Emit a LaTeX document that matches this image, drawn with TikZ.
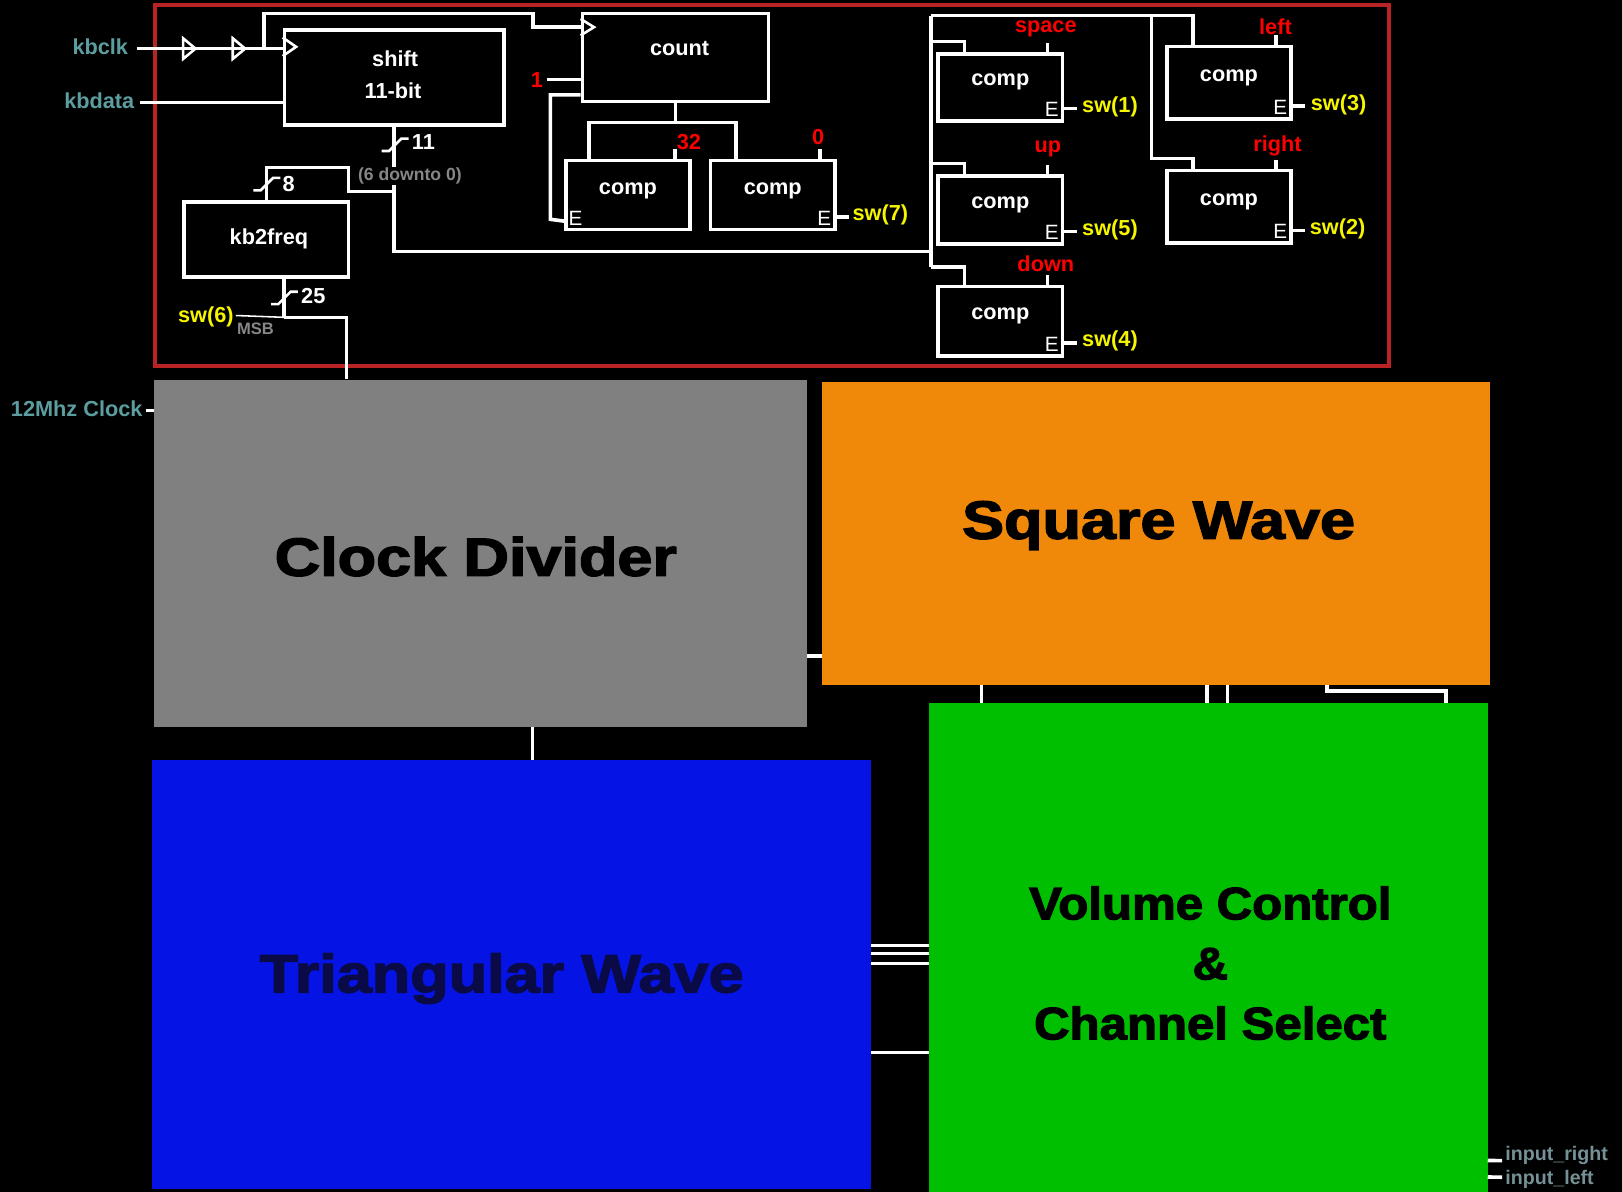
\documentclass[tikz,border=0pt]{standalone}
\usepackage{fontspec}
\setmainfont{Liberation Sans}
\newfontfamily\heavy{Liberation Sans}[BoldFeatures={FakeBold=2.5}]
\usepackage{graphicx}
\usetikzlibrary{calc}
\definecolor{portteal}{RGB}{92,158,160}
\definecolor{outgray}{RGB}{118,145,150}
\definecolor{swyel}{RGB}{245,245,0}
\definecolor{keyred}{RGB}{255,0,0}
\definecolor{framered}{RGB}{185,35,35}
\definecolor{sgray}{RGB}{135,135,135}
\definecolor{cdgray}{RGB}{128,128,128}
\definecolor{sqorange}{RGB}{240,136,10}
\definecolor{triblue}{RGB}{5,20,228}
\definecolor{volgreen}{RGB}{0,190,0}
\newcommand\bigt[2]{\scalebox{#1}[1]{#2}}
\begin{document}
\begin{tikzpicture}[x=1pt,y=-1pt,
  wire/.style={draw=white,line width=3.5pt},
  thinwire/.style={draw=white,line width=1.5pt},
  tri/.style={draw=white,line width=2.5pt,line join=miter},
  slash/.style={draw=white,line width=2.5pt,line join=miter},
  box/.style={draw=white,line width=3.5pt,fill=black,inner sep=0pt,rectangle},
  lbl/.style={text=white,inner sep=0pt,font=\fontsize{21}{21}\selectfont\bfseries},
  elbl/.style={text=white,inner sep=0pt,font=\fontsize{20}{20}\selectfont},
  swl/.style={text=swyel,inner sep=0pt,anchor=west,font=\fontsize{21}{21}\selectfont\bfseries},
  key/.style={text=keyred,inner sep=0pt,font=\fontsize{21}{21}\selectfont\bfseries},
  port/.style={text=portteal,inner sep=0pt,anchor=east,font=\fontsize{21}{21}\selectfont\bfseries},
  outp/.style={text=outgray,inner sep=0pt,anchor=west,font=\fontsize{19}{19}\selectfont\bfseries},
  note/.style={text=sgray,inner sep=1pt,fill=black,anchor=west,font=\fontsize{17}{17}\selectfont\bfseries},
  block/.style={draw=none,inner sep=0pt,rectangle},
  bigl/.style={inner sep=0pt,align=center,font=\heavy\bfseries\fontsize{52}{60}\selectfont}
]
\fill[black] (0,0) rectangle (1568,1152);
\useasboundingbox (0,0) rectangle (1568,1152);

% red frame
\node[draw=framered,line width=3.5pt,minimum width=1193pt,minimum height=349pt,inner sep=0pt] (frame) at (746.5,179.5) {};

% boxes of the keyboard part
\node[box,minimum width=212pt,minimum height=92pt] (shift) at (381,75) {};
\node[box,minimum width=180pt,minimum height=85pt] (count) at (653,55.5) {};
\node[box,minimum width=159pt,minimum height=73pt] (kb2freq) at (257.5,231.5) {};
\node[box,minimum width=120pt,minimum height=67pt] (c32) at (607,188.5) {};
\node[box,minimum width=120pt,minimum height=67pt] (c0) at (747,188.5) {};
\node[box,minimum width=120pt,minimum height=65pt] (cspace) at (967,84.5) {};
\node[box,minimum width=120pt,minimum height=66pt] (cup) at (967,203) {};
\node[box,minimum width=120pt,minimum height=67pt] (cdown) at (967,310.5) {};
\node[box,minimum width=120pt,minimum height=70pt] (cleft) at (1188,80) {};
\node[box,minimum width=120pt,minimum height=70pt] (cright) at (1188,200) {};

% big blocks
\node[block,fill=cdgray,minimum width=631pt,minimum height=336pt] (clkdiv) at (464.5,535) {};
\node[block,fill=sqorange,minimum width=645pt,minimum height=293pt] (square) at (1117.5,515.5) {};
\node[block,fill=triblue,minimum width=695pt,minimum height=414pt] (tri) at (494.5,942) {};
\node[block,fill=volgreen,minimum width=540pt,minimum height=502pt] (vol) at (1168,931) {};
\node[bigl,text=black] (tclk) at (460,538) {\bigt{1.17}{Clock Divider}};
\node[bigl,text=black] (tsquare) at (1120,508) {\bigt{1.17}{Square Wave}};
\node[bigl,text={rgb,255:red,10;green,10;blue,70}] (ttri) at (485,946) {\bigt{1.17}{Triangular Wave}};
\node[bigl,text=black,font=\heavy\bfseries\fontsize{44}{58}\selectfont] (tvol) at (1170,931)
  {\bigt{1.08}{Volume Control}\\\bigt{1.08}{\&}\\\bigt{1.08}{Channel Select}};

% port labels
\node[port] (kbclk) at (124,45) {kbclk};
\node[port] (kbdata) at (130,97) {kbdata};
\node[port] (clk12) at (138,395) {12Mhz Clock};
\node[outp] (inr) at (1455,1117) {input\_right};
\node[outp] (inl) at (1455,1140) {input\_left};

% --- wires: clock and data into shift
\coordinate (kin) at (132,47);
\coordinate (cj) at (255,47);
\draw[wire] (kin) -- (kin -| shift.west);
\draw[tri] (177,37) -- (177,57) -- (189,47) -- cycle;
\draw[tri] (225,37) -- (225,57) -- (237,47) -- cycle;
\draw[wire] (cj) |- (515,13) |- ($(count.north west)+(0,15)$);
\draw[tri] ($(shift.north west)+(0,9)$) -- ($(shift.north west)+(13,18)$) -- ($(shift.north west)+(0,27)$);
\draw[tri] ($(count.north west)+(0,7)$) -- ($(count.north west)+(13,15)$) -- ($(count.north west)+(0,23)$);
\coordinate (din) at (135,99);
\draw[wire] (din) -- (din -| shift.west);

% count inputs
\node[key] (one) at (519,77) {1};
\draw[wire] ($(one.east)+(4,0)$) -- (one.east -| count.west);
\draw[wire] ($(count.south west)+(0,-8)$) -| (532,212) -- ($(c32.south west)+(0,-10)$);

% count to comparators
\coordinate (cb) at (653,120);
\draw[wire] (count.south) -- (cb);
\draw[wire] ($(c32.north west)+(24,0)$) |- ($(c0.north west)+(26,-35)$) -- ($(c0.north west)+(26,0)$);
\draw[wire] ($(c32.north east)+(-16,0)$) -- ++(0,-9);
\draw[wire] ($(c0.north east)+(-16,0)$) -- ++(0,-9);
\draw[wire] ($(c0.south east)+(0,-14)$) -- ++(12,0);

% shift output bus
\coordinate (bj) at (382,185);
\coordinate (bc) at (382,243);
\coordinate (rb) at (900,243);
\draw[wire] (shift.south) -- (shift.south |- bc) -- (rb);
\draw[wire] (shift.south |- bj) -| (337,162) -| (kb2freq.north);
\draw[slash] (369,146) -- (376,146) -- (388,134) -- (395,134);
\draw[slash] (245,184) -- (252,184) -- (264,172) -- (271,172);

% kb2freq output
\draw[wire] ($(kb2freq.south)+(17,0)$) -- ++(0,37) coordinate (kj);
\draw[wire] (kj) -| ($(clkdiv.north west)+(186,0)$);
\draw[slash] (262,294) -- (269,294) -- (281,282) -- (288,282);
\node[swl,anchor=east] (sw6) at (226,306) {sw(6)};
\draw[thinwire] ($(sw6.east)+(2,-1)$) -- (kj);

% right comparator bus
\coordinate (rt) at (900,15);
\coordinate (rbt) at (900,258);
\coordinate (rt2) at (1113,15);
\draw[wire] (rt) -- (rbt);
\draw[wire] (rt) -| ($(cleft.north west)+(27,0)$);
\draw[wire] (rt2) |- ($(cright.north west)+(27,-10)$) -- ($(cright.north west)+(27,0)$);
\draw[wire] (900,40) -| ($(cspace.north west)+(27,0)$);
\draw[wire] (900,158) -| ($(cup.north west)+(27,0)$);
\draw[wire] (rbt) -| ($(cdown.north west)+(27,0)$);
\foreach \c in {cspace,cup,cdown,cleft,cright}{
  \draw[wire] ($(\c.north east)+(-16,0)$) -- ++(0,-9);
  \draw[wire] ($(\c.south east)+(0,-14)$) -- ++(12,0);
  \node[lbl] (\c t) at ($(\c.center)+(0,-5)$) {comp};
  \node[elbl] (\c e) at ($(\c.south east)+(-12,-13)$) {E};
}

% texts of the keyboard part
\node[lbl] (tshift) at (382,57) {shift};
\node[lbl] (tbit) at (380,88) {11-bit};
\node[lbl] (tcount) at (657,47) {count};
\node[lbl] (tkb) at (260,231) {kb2freq};
\node[lbl] (c32t) at ($(c32.center)+(0,-4)$) {comp};
\node[lbl] (c0t) at ($(c0.center)+(0,-4)$) {comp};
\node[elbl] (c32e) at ($(c32.south west)+(11,-13)$) {E};
\node[elbl] (c0e) at ($(c0.south east)+(-12,-13)$) {E};
\node[lbl,anchor=west] (n11) at (398,137) {11};
\node[lbl,anchor=west] (n8) at (273,178) {8};
\node[lbl,anchor=west] (n25) at (291,286) {25};
\node[note] (n60) at (345,170) {(6 downto 0)};
\node[note,fill=none,font=\fontsize{16}{16}\selectfont\bfseries] (msb) at (228,318) {MSB};
\node[key] (k32) at (666,137) {32};
\node[key] (k0) at (791,132) {0};
\node[swl] (sw7) at (824,208) {sw(7)};
\node[key] (kspace) at (1011,28) {space};
\node[key] (kup) at (1013,144) {up};
\node[key] (kdown) at (1011,255) {down};
\node[key] (kleft) at (1233,26) {left};
\node[key] (kright) at (1235,141) {right};
\node[swl] (sw1) at (1046,103) {sw(1)};
\node[swl] (sw5) at (1046,222) {sw(5)};
\node[swl] (sw4) at (1046,330) {sw(4)};
\node[swl] (sw3) at (1267,101) {sw(3)};
\node[swl] (sw2) at (1266,221) {sw(2)};

% --- lower block wires
\draw[wire] ($(clkdiv.north west)+(-8,30)$) -- ($(clkdiv.north west)+(0,30)$);
\draw[wire] ($(clkdiv.south east)+(0,-69)$) -- ($(square.south west)+(0,-28)$);
\draw[wire] ($(clkdiv.south west)+(366,0)$) -- ($(tri.north west)+(368,0)$);
\draw[wire] ($(square.south west)+(154,0)$) -- ($(vol.north west)+(51,0)$);
\draw[wire] ($(square.south west)+(372,0)$) -- ($(vol.north west)+(269,0)$);
\draw[wire] ($(square.south west)+(392,0)$) -- ($(vol.north west)+(289,0)$);
\draw[wire] ($(square.south west)+(488,0)$) |- ($(vol.north west)+(500,-12)$) -- ($(vol.north west)+(500,0)$);
\draw[wire,line width=3pt] ($(tri.north east)+(0,179)$) -- ($(vol.north west)+(0,234)$);
\draw[wire,line width=3pt] ($(tri.north east)+(0,187)$) -- ($(vol.north west)+(0,242)$);
\draw[wire,line width=3pt] ($(tri.north east)+(0,197)$) -- ($(vol.north west)+(0,252)$);
\draw[wire,line width=3pt] ($(tri.north east)+(0,283)$) -- ($(vol.north west)+(0,338)$);
\draw[wire] ($(vol.north east)+(0,442)$) -- ($(inr.west)+(-3,5)$);
\draw[wire] ($(vol.north east)+(0,458)$) -- ($(inl.west)+(-3,-2)$);
\end{tikzpicture}
\end{document}
